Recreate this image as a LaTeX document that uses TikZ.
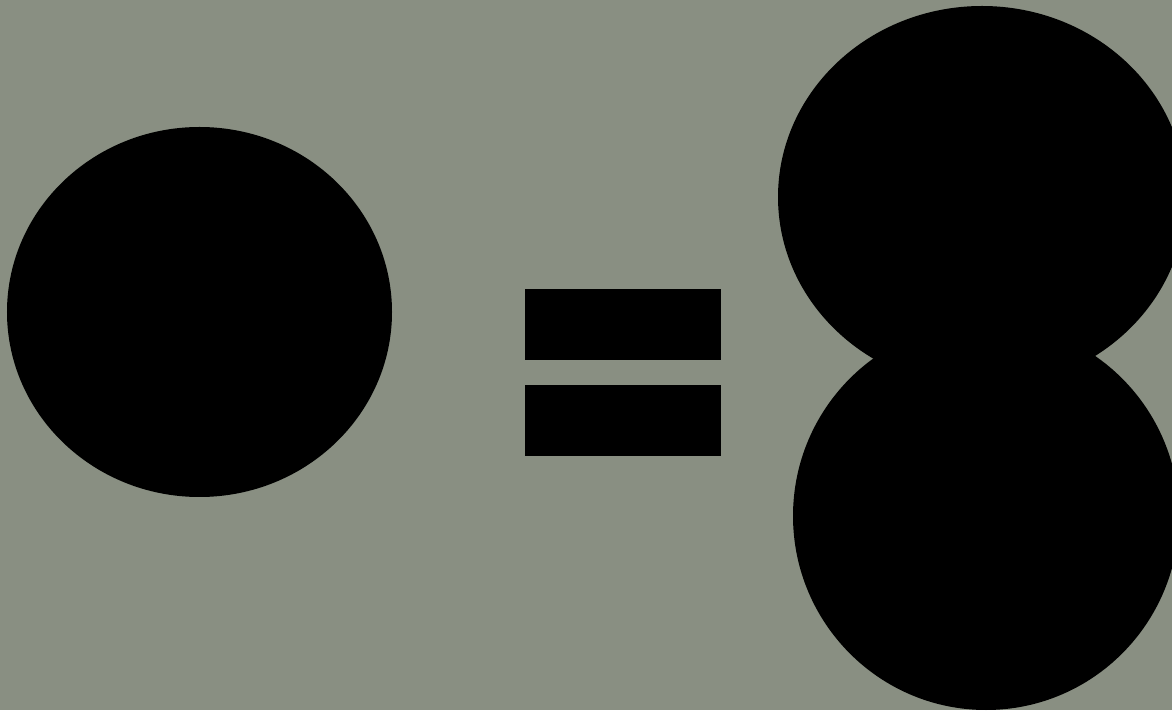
\documentclass[tikz,border=0pt]{standalone}
\usepackage{tikz}
\usetikzlibrary{calc}
\definecolor{slategreen}{RGB}{137,143,130}
\tikzset{blob/.style={fill=black,draw=none}}

\begin{document}
\begin{tikzpicture}
% --- background ---
\fill[slategreen] (0,0) rectangle (11.72,7.10);
\useasboundingbox (0,0) rectangle (11.72,7.10);
\clip (0,0) rectangle (11.72,7.10);

% --- single circle (left) ---
\fill[blob] (1.995,3.98) ellipse [x radius=1.925, y radius=1.85];

% --- equals sign ---
\fill[blob] (5.25,3.50) rectangle (7.21,4.21);
\fill[blob] (5.25,2.54) rectangle (7.21,3.25);

% --- double circle (right) ---
\fill[blob] (9.82,5.13) ellipse [x radius=2.04, y radius=1.91];
\fill[blob] (9.86,1.94) ellipse [x radius=1.93, y radius=1.94];
\end{tikzpicture}
\end{document}
